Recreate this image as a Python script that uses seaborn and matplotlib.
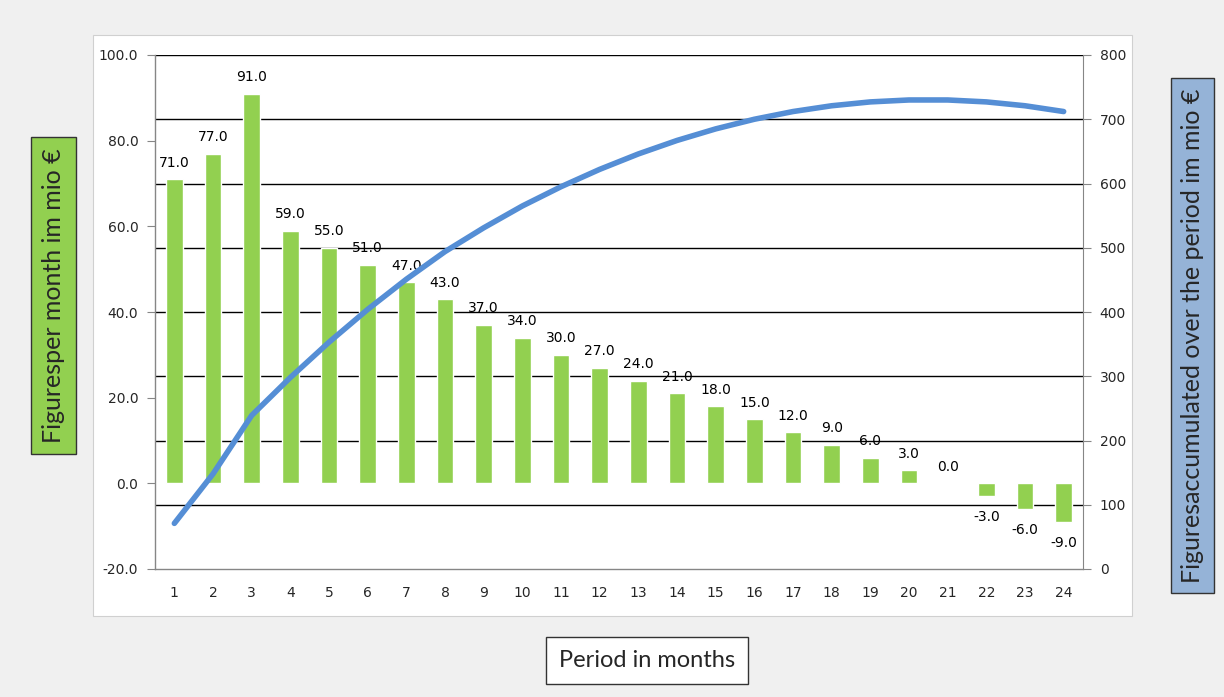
import seaborn as sns
import pandas as pd
import matplotlib.pyplot as plt
import matplotlib.patches as mpatches
import numpy as np

# data
months = [str(m) for m in range(1, 25)]
per_month = [71, 77, 91, 59, 55, 51, 47, 43, 37, 34, 30, 27,
             24, 21, 18, 15, 12, 9, 6, 3, 0, -3, -6, -9]
accumulated = [71, 148, 239, 298, 353, 404, 451, 494, 531, 565, 595, 622,
               646, 667, 685, 700, 712, 721, 727, 730, 730, 727, 721, 712]
left_ticks = [-20, 0, 20, 40, 60, 80, 100]
right_ticks = [0, 100, 200, 300, 400, 500, 600, 700, 800]

BAR_GREEN = "#92D050"
LINE_BLUE = "#558ED5"
EDGE_GRAY = "#868686"

sns.set_style("white")
plt.rcParams["font.family"] = ["DejaVu Sans"]

W, H = 1224, 697
fig = plt.figure(figsize=(W / 100, H / 100), dpi=100)
fig.patch.set_facecolor("#F0F0F0")

# white chart area
fig.patches.append(mpatches.Rectangle((93 / W, 1 - 616 / H), (1132 - 93) / W, (616 - 35) / H,
                                      transform=fig.transFigure, facecolor="white",
                                      edgecolor="#D0D0D0", lw=0.8, zorder=-10))

ax = fig.add_axes([155 / W, 1 - 569 / H, (1083 - 155) / W, (569 - 55) / H])
ax.set_facecolor("none")
df = pd.DataFrame({"month": months, "value": per_month})

# gridlines follow the right axis scale
for v in right_ticks[1:]:
    ax.axhline(-20 + v * 120 / 800, color="black", lw=1.0, zorder=0)

sns.barplot(data=df, x="month", y="value", color=BAR_GREEN, width=0.43,
            saturation=1, ax=ax, zorder=2)

for i, v in enumerate(per_month):
    if v >= 0:
        ax.text(i, v + 2.2, f"{v:.1f}", ha="center", va="bottom", fontsize=10, color="black")
    else:
        ax.text(i, v - 3.3, f"{v:.1f}", ha="center", va="top", fontsize=10, color="black")

ax.set_ylim(-20, 100)
ax.set_xlim(-0.5, 23.5)
ax.set_yticks(left_ticks)
ax.set_yticklabels([f"{t:.1f}" for t in left_ticks], fontsize=10)
ax.set_xlabel("")
ax.set_ylabel("")
ax.set_xticks(range(len(months)))
ax.set_xticklabels(months, fontsize=10)
ax.set_xticks(np.arange(-0.5, len(months), 1), minor=True)
ax.tick_params(axis="x", which="major", length=0, pad=12)
ax.tick_params(axis="x", which="minor", length=6, color=EDGE_GRAY, direction="out")
ax.tick_params(axis="y", length=6, color=EDGE_GRAY, direction="out", pad=6, left=True)
for side in ["left", "bottom"]:
    ax.spines[side].set_color(EDGE_GRAY)
    ax.spines[side].set_linewidth(1.0)
ax.spines["top"].set_visible(False)
ax.spines["right"].set_visible(False)

ax2 = ax.twinx()
sns.lineplot(x=np.arange(len(months)), y=accumulated, ax=ax2, color=LINE_BLUE,
             lw=4, solid_capstyle="round", zorder=3)
ax2.set_ylim(0, 800)
ax2.set_yticks(right_ticks)
ax2.set_yticklabels([str(t) for t in right_ticks], fontsize=10)
ax2.tick_params(axis="y", length=6, color=EDGE_GRAY, direction="out", pad=6, right=True)
ax2.spines["right"].set_color(EDGE_GRAY)
for side in ["left", "top", "bottom"]:
    ax2.spines[side].set_visible(False)
ax2.set_ylabel("")

# axis title boxes
title_font = ["Lato", "DejaVu Sans"]
fig.text(53.5 / W, 1 - 295.5 / H, "Figuresper month im mio €", rotation=90,
         ha="center", va="center", fontsize=18, family=title_font,
         bbox=dict(boxstyle="square,pad=0.45", facecolor=BAR_GREEN, edgecolor="#333333", lw=1))
fig.text(1192 / W, 1 - 335.5 / H, "Figuresaccumulated over the period im mio €", rotation=90,
         ha="center", va="center", fontsize=18, family=title_font,
         bbox=dict(boxstyle="square,pad=0.4", facecolor="#95B3D7", edgecolor="#333333", lw=1))
fig.text(647 / W, 1 - 660.5 / H, "Period in months",
         ha="center", va="center", fontsize=17, family=title_font,
         bbox=dict(boxstyle="square,pad=0.55", facecolor="white", edgecolor="#333333", lw=1))

fig.savefig("out.png", dpi=100, facecolor=fig.get_facecolor())
